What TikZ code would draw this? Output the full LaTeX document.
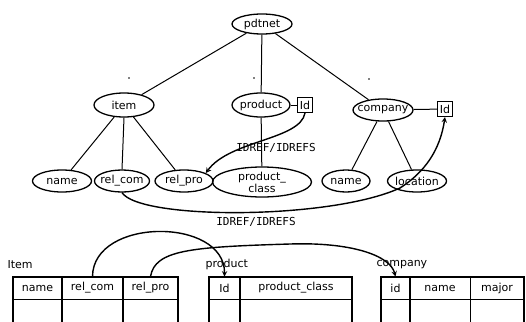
\documentclass[tikz,border=0pt]{standalone}
\usepackage{fontspec}
\setmainfont{DejaVu Sans}
\newfontfamily\reffont{DejaVu Sans Mono}
\usetikzlibrary{shapes.geometric}

\begin{document}
\begin{tikzpicture}[x=1pt,y=-1pt,>=stealth,font=\fontsize{11}{12}\selectfont]
	\tikzstyle{elem}=[ellipse,draw=black,line width=1.3pt,inner xsep=-10pt,inner ysep=-3pt,minimum width=58pt,minimum height=22pt]
	\tikzstyle{idbox}=[rectangle,draw=black,line width=1.1pt,inner sep=1pt,minimum size=15pt]
	\tikzstyle{mult}=[circle,fill=black,inner sep=0.6pt]
	\tikzstyle{cell}=[rectangle,draw=black,line width=0.9pt,minimum height=22pt,inner sep=0pt]
	\tikzstyle{tree}=[line width=1pt]
	\tikzstyle{ref}=[line width=1.4pt]
	\tikzstyle{reflabel}=[font=\reffont\fontsize{11}{12}\selectfont]
	\clip (0,0) rectangle (526,321);
	\node[elem,minimum width=60pt,minimum height=20pt](pdtnet) at (262,24) {pdtnet};
	\node[elem,minimum width=60pt,minimum height=24pt](item) at (124,105) {item};
	\node[elem,minimum height=24pt](product) at (261,105) {product};
	\node[idbox](pid) at (305,105) {Id};
	\node[elem,minimum width=60pt](company) at (383,110) {company};
	\node[idbox](cid) at (445,109) {Id};
	\node[mult](m1) at (129,78) {};
	\node[mult](m2) at (254,78) {};
	\node[mult](m3) at (369,79) {};
	\node[elem,minimum width=59pt](iname) at (62,181) {name};
	\node[elem,minimum width=55pt](relcom) at (122,181) {rel\_com};
	\node[elem](relpro) at (184,181) {rel\_pro};
	\node[elem,minimum width=99pt,minimum height=30pt,align=center](pclass) at (262,182) {product\_\\class};
	\node[elem,minimum width=48pt](cname) at (346,181) {name};
	\node[elem,minimum width=59pt](loc) at (417,181) {location};
	\draw[tree](pdtnet) -- (item);
	\draw[tree](pdtnet) -- (product);
	\draw[tree](pdtnet) -- (company);
	\draw[tree](item) -- (iname);
	\draw[tree](item.south) -- (relcom.north);
	\draw[tree](item) -- (relpro);
	\draw[tree](product) -- (pclass);
	\draw[tree](product) -- (pid);
	\draw[tree](company) -- (cid);
	\draw[tree](company) -- (cname);
	\draw[tree](company) -- (loc);
	\draw[->,ref](pid.south) .. controls (300,140) and (230,140) .. (relpro.20);
	\node[reflabel](l1) at (276,148) {IDREF/IDREFS};
	\draw[->,ref](relcom.south) .. controls (140,220) and (330,220) .. (400,188) .. controls (425,172) and (440,150) .. (cid.south);
	\node[reflabel](l2) at (256,222) {IDREF/IDREFS};
	\node[anchor=west](titem) at (4,265) {Item};
	\node[anchor=west](tproduct) at (202,264) {product};
	\node[anchor=west](tcompany) at (373,265) {company};
	\node[cell,minimum width=49pt](inameh) at (37.5,288) {name};
	\node[cell,minimum width=61pt](relcomh) at (92.5,288) {rel\_com};
	\node[cell,minimum width=55pt](relproh) at (150.5,288) {rel\_pro};
	\node[cell,minimum width=31pt](pidh) at (224.5,288) {Id};
	\node[cell,minimum width=112pt](pclassh) at (296,288) {product\_class};
	\node[cell,minimum width=29pt](cidh) at (395.5,288) {id};
	\node[cell,minimum width=60pt](cnameh) at (440,288) {name};
	\node[cell,minimum width=54pt](majorh) at (497,288) {major};
	\draw[line width=0.9pt](13,299) rectangle (62,330);
	\draw[line width=0.9pt](62,299) rectangle (123,330);
	\draw[line width=0.9pt](123,299) rectangle (178,330);
	\draw[line width=0.9pt](209,299) rectangle (240,330);
	\draw[line width=0.9pt](240,299) rectangle (352,330);
	\draw[line width=0.9pt](381,299) rectangle (410,330);
	\draw[line width=0.9pt](410,299) rectangle (470,330);
	\draw[line width=0.9pt](470,299) rectangle (524,330);
	\draw[line width=2.2pt](13,277) rectangle (178,330);
	\draw[line width=1.9pt](62,277) -- (62,330);
	\draw[line width=1.9pt](123,277) -- (123,330);
	\draw[line width=2.2pt](209,277) rectangle (352,330);
	\draw[line width=2.2pt](240,277) -- (240,330);
	\draw[line width=1.7pt](381,277) rectangle (524,330);
	\draw[line width=2.4pt](381,277) rectangle (410,330);
	\draw[->,ref](relcomh.north) .. controls (93,217) and (225,217) .. (pidh.north);
	\draw[->,ref](relproh.north) .. controls (155,250) and (190,247) .. (290,244) .. controls (350,242) and (390,255) .. (cidh.north);
\end{tikzpicture}
\end{document}
